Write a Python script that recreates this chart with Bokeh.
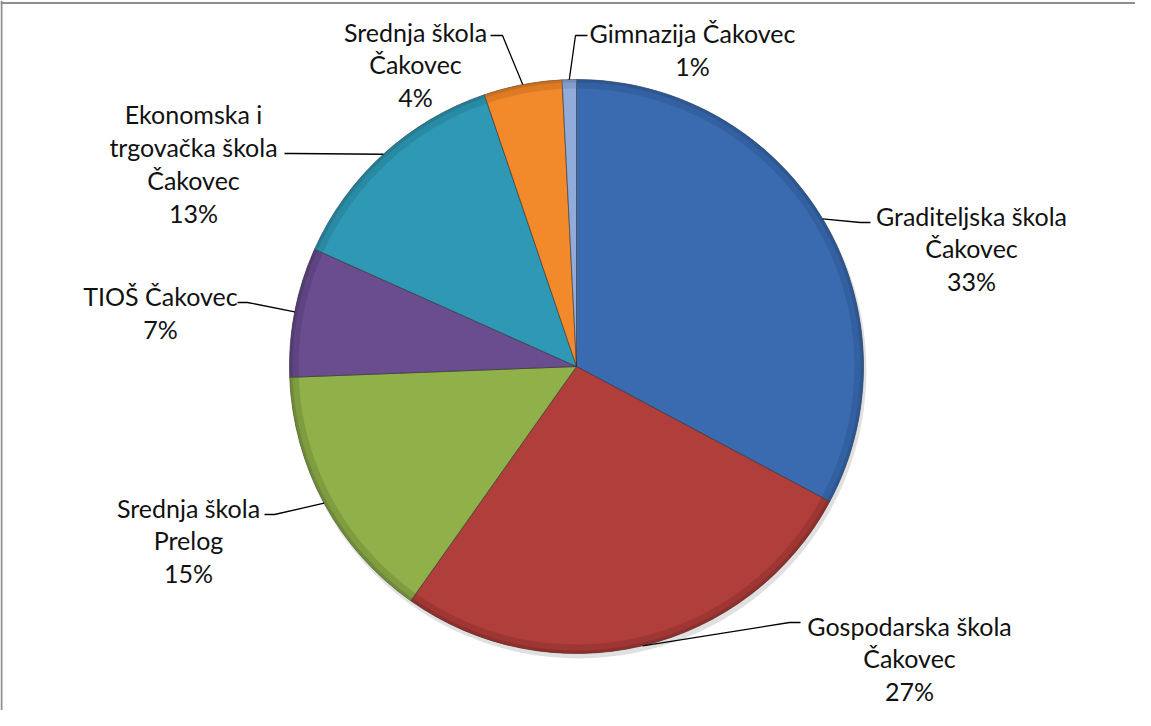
import numpy as np
from bokeh.plotting import figure
from bokeh.models import Range1d, Span, ColumnDataSource
from bokeh.embed import file_html
from bokeh.resources import INLINE
from bokeh.core.properties import value

# ---- data ----
schools = ["Graditeljska škola\nČakovec", "Gospodarska škola\nČakovec", "Srednja škola\nPrelog",
           "TIOŠ Čakovec", "Ekonomska i\ntrgovačka škola\nČakovec", "Srednja škola\nČakovec",
           "Gimnazija Čakovec"]
shares = [32.8, 27.0, 14.6, 7.3, 13.1, 4.4, 0.8]
colors = ["#3A6AB0", "#B03E3B", "#90B14A", "#694D8E", "#2F98B5", "#F2892B", "#91ACDA"]
rim_colors = ["#284d85", "#7e2826", "#62792f", "#4a3566", "#1f6f85", "#b8621a", "#6680ad"]

# ---- layout (pixel-like units, pie centre at origin) ----
W, H = 1135, 710
CX, CY = 584, 374          # page position of pie centre
R = 287
label_pos = [(979, 256), (917, 666), (196, 548), (168, 320), (201, 171), (423, 72), (700, 57)]
knees = [(868, 230), (797, 630), (282, 522), (255, 310), (300, 161), (510, 43), (583, 43)]
ends = [(878, 230), (808, 630), (272, 522), (245, 310), (292, 161), (498, 43), (595, 43)]

def px(x, y):
    return x - CX, CY - y

p = figure(width=W, height=H, output_backend="svg", toolbar_location=None,
           x_range=Range1d(8 - CX, 8 + W - CX), y_range=Range1d(CY - 8 - H, CY - 8),
           min_border=0)
p.axis.visible = False
p.grid.visible = False
p.outline_line_color = None
p.background_fill_color = "white"
p.border_fill_color = "white"

# frame of the chart area (top and left edges visible)
p.add_layout(Span(location=CY - 10.5, dimension="width", line_color="#8E8E8E", line_width=2))
p.add_layout(Span(location=8 - CX + 1, dimension="height", line_color="#8E8E8E", line_width=2))

total = sum(shares)
fr = np.array(shares) / total
cum = np.concatenate([[0], np.cumsum(fr)])
start = np.pi / 2 - 2 * np.pi * cum[:-1]
end = np.pi / 2 - 2 * np.pi * cum[1:]
mid = (start + end) / 2

src = ColumnDataSource(dict(start=start, end=end, color=colors, rim=rim_colors))

# soft shadow
p.circle(x=2, y=-4, radius=R + 1, fill_color="#000000", fill_alpha=0.12, line_color=None)

p.wedge(x=0, y=0, radius=R, start_angle="start", end_angle="end", direction="clock",
        fill_color="color", line_color="#2d2d2d", line_alpha=0.55, line_width=1, source=src)
# darker bevel rim
p.annular_wedge(x=0, y=0, inner_radius=R - 9, outer_radius=R, start_angle="start", end_angle="end",
                direction="clock", fill_color="rim", fill_alpha=0.35, line_color=None, source=src)
p.annular_wedge(x=0, y=0, inner_radius=R - 3, outer_radius=R, start_angle="start", end_angle="end",
                direction="clock", fill_color="rim", fill_alpha=0.5, line_color=None, source=src)

# leader lines
for i in range(len(shares)):
    ex, ey = R * np.cos(mid[i]), R * np.sin(mid[i])
    kx, ky = px(*knees[i])
    tx, ty = px(*ends[i])
    p.line([ex, kx, tx], [ey, ky, ty], line_color="black", line_width=1.3)

texts = [f"{s}\n{round(v / total * 100)}%" for s, v in zip(schools, shares)]
lx = [px(*q)[0] for q in label_pos]
ly = [px(*q)[1] for q in label_pos]
p.text(x=lx, y=ly, text=texts, text_align="center", text_baseline="middle",
       text_font=value("Lato"), text_font_size="25px", text_color="#111111", text_line_height=1.09)

open("out.html", "w").write(file_html(p, INLINE))
